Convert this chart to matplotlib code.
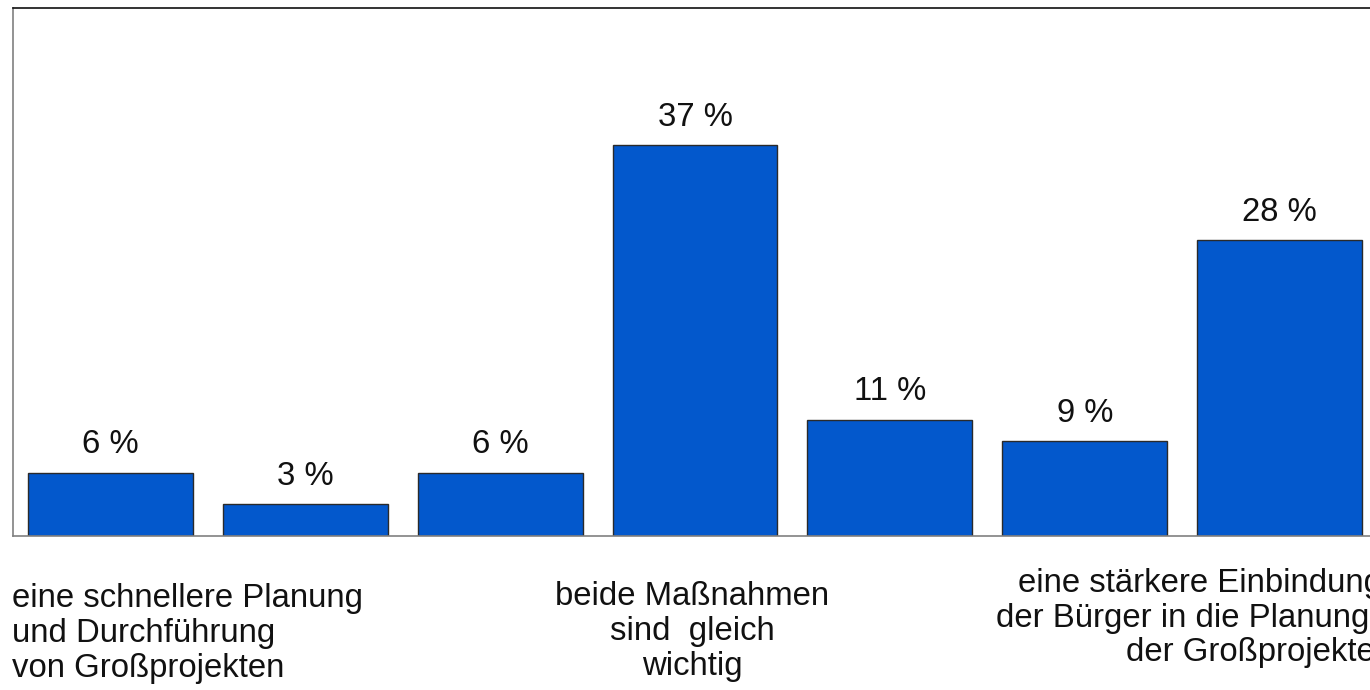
import matplotlib
matplotlib.use("Agg")
import matplotlib.pyplot as plt
import matplotlib.transforms as mtransforms

values = [6, 3, 6, 37, 11, 9, 28]
value_labels = ["6 %", "3 %", "6 %", "37 %", "11 %", "9 %", "28 %"]
cat_left = ["eine schnellere Planung", "und Durchführung", "von Großprojekten"]
cat_mid = ["beide Maßnahmen", "sind  gleich", "wichtig"]
cat_right = ["eine stärkere Einbindung", "der Bürger in die Planung", "der Großprojekte"]

plt.rcParams['font.family'] = ['Liberation Sans', 'DejaVu Sans']
W, H = 1370, 690
DPI = 100
fig = plt.figure(figsize=(W / DPI, H / DPI), dpi=DPI)
ax = fig.add_axes([13 / W, 154 / H, 1364 / W, 528 / H])

x = list(range(len(values)))
ax.bar(x, values, width=0.846, color='#0358CC', edgecolor='#2a2a2a', linewidth=1.0)
ax.set_xlim(-0.5, len(values) - 0.5)
ax.set_ylim(0, 50)
ax.set_xticks([])
ax.set_yticks([])
for s in ['left', 'bottom']:
    ax.spines[s].set_color('#808080')
    ax.spines[s].set_linewidth(1.2)
ax.spines['top'].set_color('#111111')
ax.spines['top'].set_linewidth(1.2)
ax.spines['right'].set_visible(False)

fs = 23.7
tc = '#111111'
for xi, v, lab in zip(x, values, value_labels):
    ax.annotate(lab, (xi, v), xytext=(0, 14), textcoords='offset points',
                ha='center', va='baseline', fontsize=fs, color=tc)

trans = mtransforms.blended_transform_factory(ax.transData, fig.transFigure)

def put(xd, ypix, s, ha):
    ax.text(xd, 1 - ypix / H, s, transform=trans, ha=ha, va='baseline',
            fontsize=fs, color=tc, clip_on=False)

# left block (left-aligned)
for i, s in enumerate(cat_left):
    put(-0.505, 607 + 35 * i, s, 'left')
# middle block (centered)
for i, s in enumerate(cat_mid):
    put(2.985, 605 + 35 * i, s, 'center')
# right block (individual line starts as in the original)
right_x = [4.659, 4.546, 5.213]
for i, s in enumerate(cat_right):
    put(right_x[i], 592 + 34.5 * i, s, 'left')

fig.savefig("out.png", dpi=DPI)
